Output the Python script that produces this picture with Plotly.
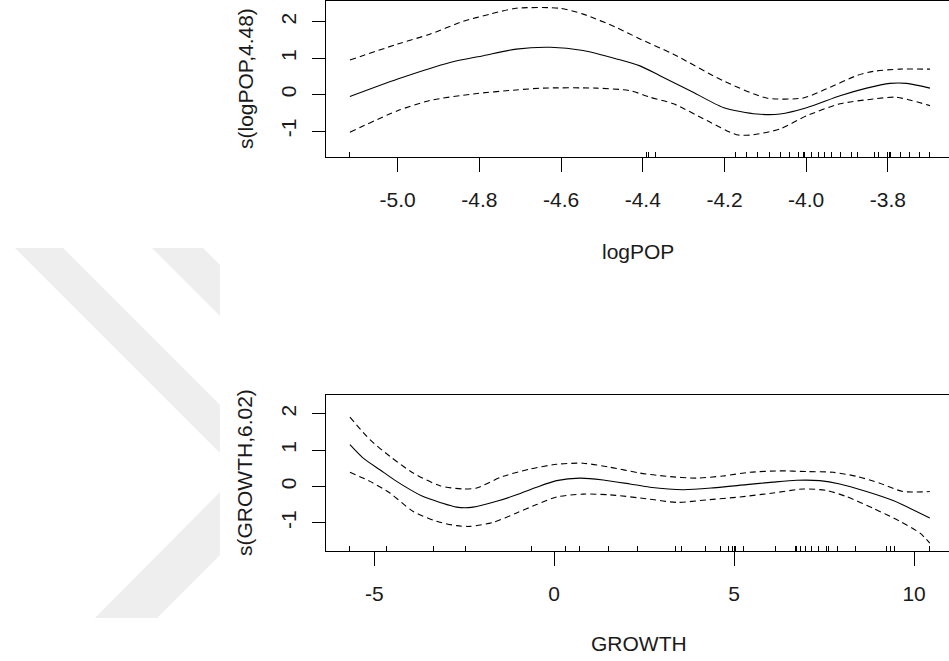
import plotly.graph_objects as go

W, H = 949, 661

# ---------------- data: panel 1 (logPOP) ----------------
logpop_fit_x = [-5.117, -5.0, -4.872, -4.79, -4.71, -4.626, -4.546, -4.464, -4.407, -4.358,
                -4.284, -4.203, -4.121, -4.064, -3.999, -3.917, -3.852, -3.795, -3.754, -3.697]
logpop_fit_y = [-0.05, 0.43, 0.885, 1.07, 1.25, 1.30, 1.21, 0.98, 0.79, 0.52,
                0.11, -0.35, -0.53, -0.53, -0.36, -0.03, 0.18, 0.31, 0.31, 0.18]
logpop_up_x = [-5.117, -5.0, -4.921, -4.84, -4.774, -4.71, -4.603, -4.546, -4.464, -4.407,
               -4.325, -4.203, -4.097, -4.007, -3.95, -3.877, -3.836, -3.771, -3.697]
logpop_up_y = [0.95, 1.39, 1.66, 2.01, 2.21, 2.37, 2.37, 2.21, 1.84, 1.53,
               1.11, 0.38, -0.09, -0.09, 0.16, 0.52, 0.64, 0.70, 0.70]
logpop_lo_x = [-5.117, -5.0, -4.921, -4.815, -4.71, -4.644, -4.513, -4.431, -4.382, -4.325,
               -4.243, -4.17, -4.13, -4.064, -3.999, -3.917, -3.836, -3.78, -3.697]
logpop_lo_y = [-1.03, -0.44, -0.16, 0.02, 0.13, 0.18, 0.18, 0.11, -0.07, -0.25,
               -0.71, -1.10, -1.10, -0.94, -0.58, -0.25, -0.12, -0.07, -0.30]
logpop_rug = [-5.117, -4.392, -4.387, -4.368, -4.173, -4.147, -4.119, -4.089, -4.064, -4.042,
              -4.019, -4.007, -4.005, -3.987, -3.970, -3.954, -3.938, -3.915, -3.889, -3.875,
              -3.833, -3.822, -3.801, -3.797, -3.793, -3.770, -3.746, -3.723, -3.697]
logpop_xticks = [-5.0, -4.8, -4.6, -4.4, -4.2, -4.0, -3.8]
logpop_xticktext = ["-5.0", "-4.8", "-4.6", "-4.4", "-4.2", "-4.0", "-3.8"]

# ---------------- data: panel 2 (GROWTH) ----------------
growth_fit_x = [-5.675, -5.306, -4.842, -4.378, -3.639, -3.175, -2.711, -2.25, -1.6, -1.044,
                -0.489, 0.067, 0.714, 1.361, 2.103, 2.658, 3.583, 4.417, 5.344, 6.083,
                6.733, 7.381, 7.936, 8.678, 9.417, 10.436]
growth_fit_y = [1.15, 0.78, 0.46, 0.14, -0.28, -0.44, -0.57, -0.57, -0.41, -0.23,
                -0.02, 0.16, 0.23, 0.18, 0.07, -0.02, -0.09, -0.04, 0.05, 0.12,
                0.17, 0.16, 0.07, -0.14, -0.39, -0.87]
growth_up_x = [-5.675, -5.119, -4.564, -3.917, -3.175, -2.528, -2.156, -1.417, -0.675, 0.067,
               0.806, 1.547, 2.38, 3.122, 3.956, 4.694, 5.436, 6.269, 7.011, 7.75,
               8.4, 9.047, 9.694, 10.436]
growth_up_y = [1.91, 1.29, 0.83, 0.37, 0.02, -0.07, -0.04, 0.28, 0.48, 0.61,
               0.64, 0.53, 0.37, 0.28, 0.23, 0.29, 0.39, 0.43, 0.41, 0.39,
               0.28, 0.09, -0.14, -0.14]
growth_lo_x = [-5.675, -5.119, -4.564, -3.917, -3.267, -2.711, -2.342, -1.694, -1.044, -0.489,
               0.067, 0.806, 1.547, 2.658, 3.4, 4.233, 5.158, 6.083, 6.917, 7.567,
               8.122, 8.861, 9.603, 10.158, 10.436]
growth_lo_y = [0.39, 0.14, -0.18, -0.69, -0.96, -1.08, -1.10, -0.99, -0.73, -0.50,
               -0.29, -0.21, -0.23, -0.35, -0.44, -0.37, -0.29, -0.18, -0.07, -0.11,
               -0.28, -0.60, -0.96, -1.28, -1.56]
growth_rug = [-5.675, -4.656, -3.342, -2.461, -0.628, 0.306, 0.714, 1.5, 2.306, 3.381,
              3.539, 4.206, 4.622, 4.833, 4.956, 5.0, 5.047, 5.269, 6.15, 6.706,
              6.733, 6.844, 6.992, 7.15, 7.333, 7.567, 7.631, 7.861, 8.381, 9.233,
              9.344, 9.464, 10.436]
growth_xticks = [-5, 0, 5, 10]
growth_xticktext = ["-5", "0", "5", "10"]

y_ticks = [-1, 0, 1, 2]
y_ticktext = ["-1", "0", "1", "2"]

titles_x = ["logPOP", "GROWTH"]
titles_y = ["s(logPOP,4.48)", "s(GROWTH,6.02)"]

FONT = "Liberation Sans, Arial, sans-serif"
FS = 21
TXT = "#1a1a1a"

def px_x(p):
    return p / W

def px_y(p):
    return 1 - p / H

fig = go.Figure()

def add_panel(xa, ya, fx, fy, ux, uy, lx, ly):
    common = dict(xaxis=xa, yaxis=ya, mode="lines", showlegend=False, hoverinfo="skip")
    fig.add_trace(go.Scatter(x=fx, y=fy, line=dict(color="black", width=1.1, shape="spline", smoothing=0.7), **common))
    fig.add_trace(go.Scatter(x=ux, y=uy, line=dict(color="black", width=1.1, dash="6px,4px", shape="spline", smoothing=0.7), **common))
    fig.add_trace(go.Scatter(x=lx, y=ly, line=dict(color="black", width=1.1, dash="6px,4px", shape="spline", smoothing=0.7), **common))

add_panel("x", "y", logpop_fit_x, logpop_fit_y, logpop_up_x, logpop_up_y, logpop_lo_x, logpop_lo_y)
add_panel("x2", "y2", growth_fit_x, growth_fit_y, growth_up_x, growth_up_y, growth_lo_x, growth_lo_y)

def xaxis_cfg(dom_y, rng, tv, tt, rug, anchor):
    return dict(
        domain=[px_x(326), 1.0], range=rng, anchor=anchor,
        showgrid=False, zeroline=False, showline=True, mirror=True,
        linecolor="black", linewidth=1,
        tickmode="array", tickvals=tv, ticktext=tt,
        ticks="outside", ticklen=14, tickwidth=1, tickcolor="black",
        tickfont=dict(family=FONT, size=FS, color=TXT),
        ticklabelstandoff=10,
        minor=dict(tickmode="array", tickvals=rug, ticks="inside", ticklen=5,
                   tickwidth=1, tickcolor="black", showgrid=False),
    )

def yaxis_cfg(top, bot, rng, anchor):
    return dict(
        domain=[px_y(bot), px_y(top)], range=rng, anchor=anchor,
        showgrid=False, zeroline=False, showline=True, mirror=False,
        linecolor="black", linewidth=1,
        tickmode="array", tickvals=y_ticks, ticktext=y_ticktext,
        ticks="outside", ticklen=13, tickwidth=1, tickcolor="black",
        tickangle=-90,
        tickfont=dict(family=FONT, size=FS, color=TXT),
        ticklabelstandoff=8,
    )

fig.update_layout(
    width=W, height=H,
    margin=dict(l=0, r=0, t=0, b=0),
    paper_bgcolor="white", plot_bgcolor="white",
    xaxis=xaxis_cfg(None, [-5.1755, -3.6504], logpop_xticks, logpop_xticktext, logpop_rug, "y"),
    yaxis=yaxis_cfg(1, 157, [-1.71, 2.57], "x"),
    xaxis2=xaxis_cfg(None, [-6.34, 10.97], growth_xticks, growth_xticktext, growth_rug, "y2"),
    yaxis2=yaxis_cfg(395, 550.7, [-1.77, 2.52], "x2"),
)

# axis titles
ann = []
ann.append(dict(text=titles_x[0], x=px_x(638), y=px_y(252), xref="paper", yref="paper",
                showarrow=False, xanchor="center", yanchor="middle",
                font=dict(family=FONT, size=FS, color=TXT)))
ann.append(dict(text=titles_x[1], x=px_x(639), y=px_y(643), xref="paper", yref="paper",
                showarrow=False, xanchor="center", yanchor="middle",
                font=dict(family=FONT, size=FS, color=TXT)))
ann.append(dict(text=titles_y[0], x=px_x(245), y=px_y(79), xref="paper", yref="paper",
                showarrow=False, xanchor="center", yanchor="middle", textangle=-90,
                font=dict(family=FONT, size=FS, color=TXT)))
ann.append(dict(text=titles_y[1], x=px_x(244), y=px_y(473), xref="paper", yref="paper",
                showarrow=False, xanchor="center", yanchor="middle", textangle=-90,
                font=dict(family=FONT, size=FS, color=TXT)))
fig.update_layout(annotations=ann)

# faint background watermark (chevron bands), clipped at x=220 px
def poly(pts):
    d = "M " + " L ".join(f"{px_x(a):.5f},{px_y(b):.5f}" for a, b in pts) + " Z"
    return dict(type="path", path=d, xref="paper", yref="paper",
                fillcolor="#eeeeee", line=dict(width=0), layer="below")

fig.update_layout(shapes=[
    poly([(15, 248), (63, 248), (220, 405), (220, 453)]),
    poly([(152, 248), (203, 248), (220, 265), (220, 316)]),
    poly([(95, 618), (157, 618), (220, 555), (220, 492)]),
])

fig.write_html("out.html")
